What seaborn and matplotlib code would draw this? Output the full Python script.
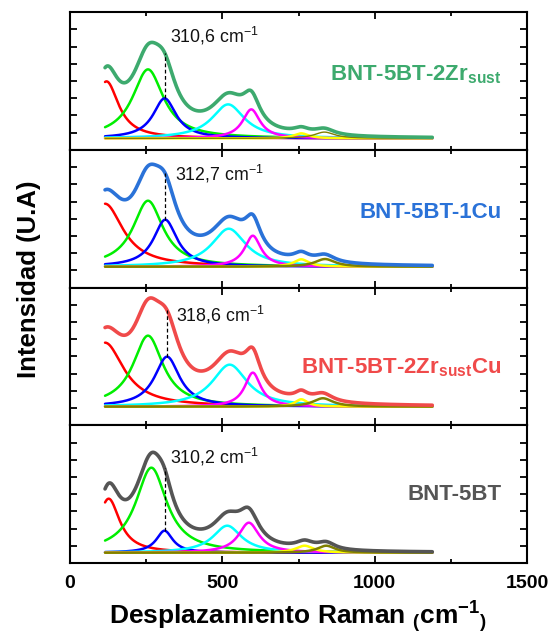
import numpy as np
import pandas as pd
import matplotlib
matplotlib.use("Agg")
import matplotlib.pyplot as plt
from matplotlib.ticker import MultipleLocator
import seaborn as sns

# ---------------- data ----------------
samples = ["BNT-5BT-2Zr$_{\\mathbf{sust}}$", "BNT-5BT-1Cu",
           "BNT-5BT-2Zr$_{\\mathbf{sust}}$Cu", "BNT-5BT"]
sample_colors = ["#3daa6e", "#2a72d8", "#f04a4a", "#555555"]
mode_labels = ["310,6", "312,7", "318,6", "310,2"]
mode_positions = [310.6, 312.7, 318.6, 310.2]

component_colors = ["#ff0000", "#00ee00", "#0000ff", "#00ffff",
                    "#ff00ff", "#ffff00", "#808000"]

# Lorentzian components: centre (cm-1), height and half width, one list per sample
centers_zr = [120, 256, 310.6, 519, 595, 759, 835]
heights_zr = [57, 69, 40, 34, 29, 5, 6.3]
widths_zr = [48, 62, 46, 65, 35, 30, 40]

centers_cu = [115, 256, 312.7, 521, 600, 759, 837]
heights_cu = [63, 66, 47, 38, 31, 7.4, 7.7]
widths_cu = [72, 60, 47, 68, 33, 30, 40]

centers_zrcu = [115, 256, 318.6, 524, 600, 759, 830]
heights_zrcu = [64, 71, 50, 42, 34, 7.4, 8.4]
widths_zrcu = [75, 60, 50, 70, 32, 25, 40]

centers_bnt = [127, 267, 310.2, 516, 587, 770, 841]
heights_bnt = [54, 85, 22, 27, 30, 7, 7]
widths_bnt = [44, 62, 33, 57, 41, 35, 35]

baselines = [11.4, 20.8, 18.6, 10.3]
shift_min, shift_max = 115, 1190

centers = [centers_zr, centers_cu, centers_zrcu, centers_bnt]
heights = [heights_zr, heights_cu, heights_zrcu, heights_bnt]
widths = [widths_zr, widths_cu, widths_zrcu, widths_bnt]

# text placement (x in cm-1, y in panel units)
label_y = [74.8, 75.5, 58, 68]
mode_text_xy = [(327, 113.7), (344, 114), (349, 110), (327, 106)]

# ---------------- style ----------------
sns.set_theme(style="ticks")
plt.rcParams["font.family"] = ["Liberation Sans", "DejaVu Sans"]
plt.rcParams["font.weight"] = "bold"
plt.rcParams["text.color"] = "black"
plt.rcParams["axes.labelcolor"] = "black"
plt.rcParams["xtick.color"] = "black"
plt.rcParams["ytick.color"] = "black"
plt.rcParams["mathtext.fontset"] = "custom"
plt.rcParams["mathtext.rm"] = "Liberation Sans"
plt.rcParams["mathtext.bf"] = "Liberation Sans:bold"
plt.rcParams["mathtext.it"] = "Liberation Sans:italic"

fig = plt.figure(figsize=(5.49, 6.34), dpi=100)
axes = fig.subplots(4, 1, sharex=True, gridspec_kw=dict(hspace=0))
fig.subplots_adjust(left=0.1275, right=0.96, top=0.981, bottom=0.112)

H = 137.75
x = np.arange(shift_min, shift_max + 1, 2.0)

for i, ax in enumerate(axes):
    total = np.zeros_like(x)
    comps = []
    for c, h, w, col in zip(centers[i], heights[i], widths[i], component_colors):
        y = h / (1.0 + ((x - c) / w) ** 2)
        total += y
        comps.append((y, col))
    for y, col in comps:
        lw = 1.0 if (i == 0 and col == "#808000") else 1.8
        sns.lineplot(x=x, y=y + baselines[i], color=col, lw=lw, ax=ax,
                     legend=False, estimator=None, sort=False)
    sns.lineplot(x=x, y=total + baselines[i], color=sample_colors[i], lw=2.6,
                 ax=ax, legend=False, estimator=None, sort=False, zorder=5)

    # dashed marker from blue component top to spectrum
    pos = mode_positions[i]
    blue_top = heights[i][2] + baselines[i]
    spec_at = np.interp(pos, x, total) + baselines[i]
    ax.plot([pos, pos], [blue_top, spec_at], ls=(0, (3, 2)), color="black",
            lw=0.9, zorder=6)
    tx, ty = mode_text_xy[i]
    ax.text(tx, ty, mode_labels[i] + " cm$^{\\mathregular{-1}}$",
            fontsize=12.8, fontweight="normal", va="center", ha="left",
            color="#111111")
    ax.text(1415, label_y[i], samples[i], fontsize=16, fontweight="bold",
            color=sample_colors[i], ha="right", va="center")

    ax.set_ylim(0, H)
    ax.set_xlim(0, 1500)
    ax.yaxis.set_major_locator(MultipleLocator(17.2))
    ax.set_yticklabels([])
    ax.set_ylabel("")
    ax.tick_params(axis="both", which="both", direction="in", top=True,
                   right=True, width=1.3)
    ax.tick_params(axis="both", which="major", length=5)
    ax.tick_params(axis="x", which="minor", length=3)
    for s in ax.spines.values():
        s.set_linewidth(1.5)
        s.set_color("black")

axes[-1].xaxis.set_major_locator(MultipleLocator(500))
axes[-1].xaxis.set_minor_locator(MultipleLocator(250))
axes[-1].tick_params(axis="x", labelsize=14, pad=9)
for lab in axes[-1].get_xticklabels():
    lab.set_fontweight("bold")
axes[-1].set_xlabel("Desplazamiento Raman $\\mathregular{_{(}}$cm$^{\\mathbf{-1}}$$\\mathregular{_{)}}$",
                    fontsize=19, fontweight="bold", labelpad=5)
fig.text(0.052, 0.56, "Intensidad (U.A)", rotation=90, fontsize=18.5,
         fontweight="bold", ha="center", va="center")

fig.savefig("out.png", dpi=100)
